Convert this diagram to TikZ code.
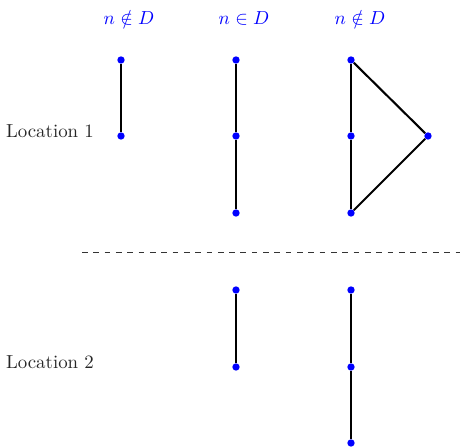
\documentclass[tikz,border=0pt]{standalone}
\begin{document}
\begin{tikzpicture}[x=0.53pt,y=-0.53pt,
  vtx/.style={circle,fill=blue,inner sep=0pt,minimum size=3.9pt},
  edge/.style={line width=1.1pt,black},
  lbl/.style={text=blue},
  loc/.style={text=black!85}]
\useasboundingbox (0,0) rectangle (460,448);
% labels
\node[lbl] (l1) at (129,18) {$n\notin D$};
\node[lbl] (l2) at (244,18) {$n\in D$};
\node[lbl] (l3) at (360,18) {$n\notin D$};
\node[loc] (loc1) at (50,131) {Location 1};
\node[loc] (loc2) at (50,362) {Location 2};
% separator
\coordinate (s1) at (82,252);
\coordinate (s2) at (460,252);
\draw[dashed,black!80] (s1) -- (s2);
% location 1
\node[vtx] (a1) at (121,60) {};
\node[vtx] (a2) at (121,136) {};
\node[vtx] (b1) at (236,60) {};
\node[vtx] (b2) at (236,136) {};
\node[vtx] (b3) at (236,213) {};
\node[vtx] (c1) at (351,60) {};
\node[vtx] (c2) at (351,136) {};
\node[vtx] (c3) at (351,213) {};
\node[vtx] (c4) at (428,136) {};
\draw[edge] (a1) -- (a2);
\draw[edge] (b1) -- (b2);
\draw[edge] (b2) -- (b3);
\draw[edge] (c1) -- (c2);
\draw[edge] (c2) -- (c3);
\draw[edge] (c1) -- (c4);
\draw[edge] (c3) -- (c4);
% location 2
\node[vtx] (d1) at (236,290) {};
\node[vtx] (d2) at (236,367) {};
\node[vtx] (e1) at (351,290) {};
\node[vtx] (e2) at (351,367) {};
\node[vtx] (e3) at (351,443) {};
\draw[edge] (d1) -- (d2);
\draw[edge] (e1) -- (e2);
\draw[edge] (e2) -- (e3);
\end{tikzpicture}
\end{document}
